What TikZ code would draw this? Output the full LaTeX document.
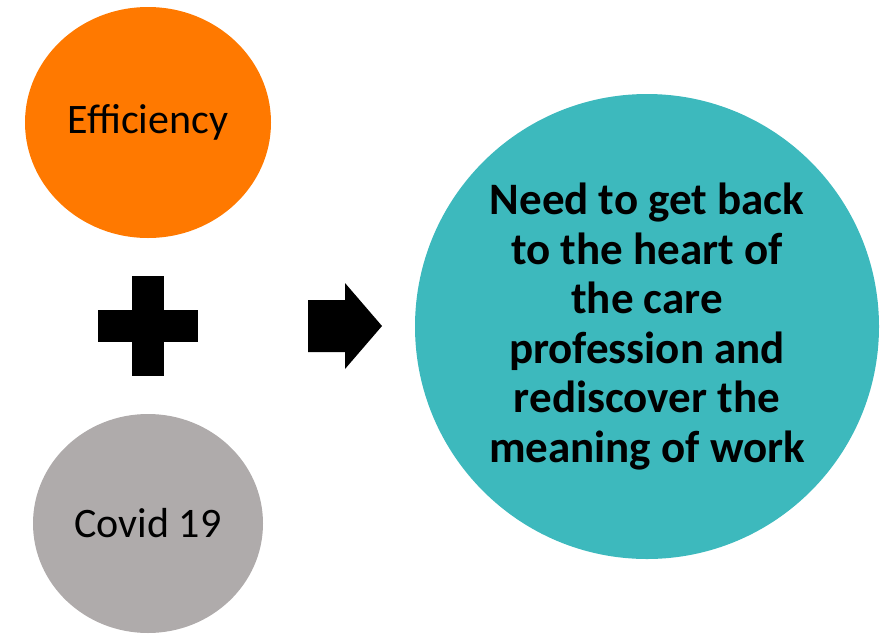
\documentclass[tikz,border=0pt]{standalone}
\usepackage{fontspec}
\setmainfont{Carlito}
\usepackage{tikz}
\usetikzlibrary{shapes.geometric}

\definecolor{effOrange}{RGB}{255,121,0}
\definecolor{covidGrey}{RGB}{175,171,171}
\definecolor{needTeal}{RGB}{61,185,189}

\tikzset{
	blob/.style={ellipse,inner sep=0pt,font=\fontsize{42}{50}\selectfont},
	sign/.style={fill=black}
}

\begin{document}
\begin{tikzpicture}[x=1pt,y=-1pt]
	\useasboundingbox (0,0) rectangle (889,643);

	\node [blob,fill=effOrange,minimum width=246pt,minimum height=231pt](EFF) at (148,122.5) {Efficiency};
	\node [blob,fill=covidGrey,minimum width=230pt,minimum height=219pt](COVID) at (148,523.5) {\raisebox{-3pt}{Covid 19}};
	\node [blob,fill=needTeal,minimum width=464pt,minimum height=465pt,align=center,font=\fontsize{45}{49.6}\selectfont\bfseries](NEED) at (647,326.5)
		{Need to get back\\to the heart of\\the care\\profession and\\rediscover the\\meaning of work};

	\coordinate (PLUS) at (148,326);
	\coordinate (ARROW) at (308,326);

	\fill [sign] (PLUS) ++(-50,-16) rectangle ++(100,32);
	\fill [sign] (PLUS) ++(-16,-50) rectangle ++(32,100);

	\fill [sign] (ARROW) ++(0,-26) -- ++(37,0) -- ++(0,-17) -- ++(37,43) -- ++(-37,43) -- ++(0,-17) -- ++(-37,0) -- cycle;

\end{tikzpicture}
\end{document}
